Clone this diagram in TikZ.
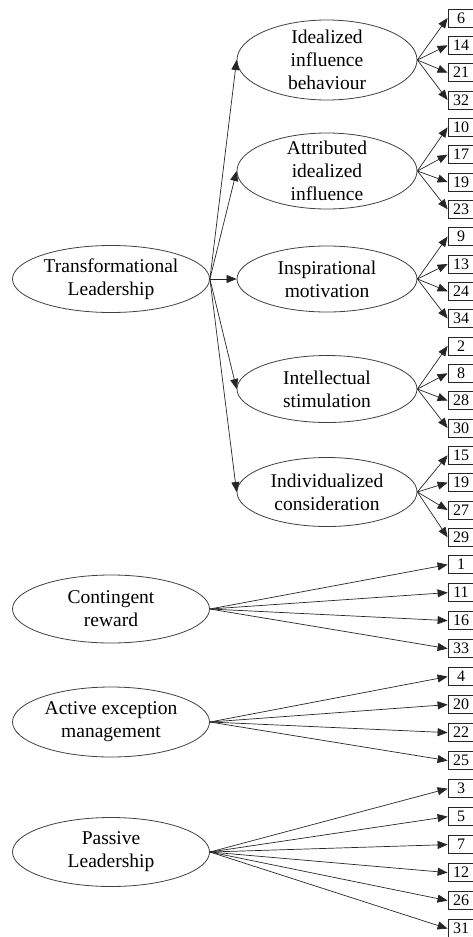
\documentclass[tikz,border=0pt]{standalone}
\usepackage{fontspec}
\setmainfont{Liberation Serif}
\usetikzlibrary{arrows.meta,shapes.geometric}
\begin{document}
\begin{tikzpicture}[x=1pt,y=-1pt,
  lat/.style={ellipse, draw=black!75, line width=0.8pt, inner sep=0pt},
  lbl/.style={inner sep=0pt, align=center, font=\fontsize{19.5}{23}\selectfont},
  item/.style={rectangle, draw=black!85, line width=0.8pt, minimum width=26pt, minimum height=18pt, inner sep=0pt, font=\fontsize{16}{16}\selectfont},
  arr/.style={-{Triangle[length=10pt,width=8pt]}, draw=black!85, line width=0.7pt}]
\useasboundingbox (0,0) rectangle (473,937);
% latent ellipses
\node[lat, minimum width=197pt, minimum height=67pt] (TL) at (111,279) {};
\node[lbl] at (TL) {Transformational\\Leadership};
\node[lat, minimum width=180pt, minimum height=80pt] (IIB) at (327,60) {};
\node[lbl] at (IIB) {Idealized\\influence\\behaviour};
\node[lat, minimum width=180pt, minimum height=76pt] (AII) at (327,171) {};
\node[lbl] at (AII) {Attributed\\idealized\\influence};
\node[lat, minimum width=180pt, minimum height=66pt] (IM) at (327,279) {};
\node[lbl] at (IM) {Inspirational\\motivation};
\node[lat, minimum width=180pt, minimum height=67pt] (IS) at (327,389) {};
\node[lbl] at (IS) {Intellectual\\stimulation};
\node[lat, minimum width=180pt, minimum height=69pt] (IC) at (327,492) {};
\node[lbl] at (IC) {Individualized\\consideration};
\node[lat, minimum width=197pt, minimum height=68pt] (CR) at (111,609) {};
\node[lbl] at (CR) {Contingent\\reward};
\node[lat, minimum width=197pt, minimum height=70pt] (AEM) at (111,722) {};
\node[lbl] at (AEM) {Active exception\\management};
\node[lat, minimum width=197pt, minimum height=69pt] (PL) at (111,852) {};
\node[lbl] at (PL) {Passive\\Leadership};
% item boxes
\foreach \lab/\yy [count=\i from 0] in {6/18,14/45.3,21/72.7,32/100,
  10/127.3,17/154.7,19/182,23/209.3,
  9/236.6,13/264,24/291.3,34/318.6,
  2/346,8/373.3,28/400.6,30/428,
  15/455.3,19/482.6,27/510,29/537.3,
  1/564.6,11/592.6,16/620.6,33/648.6,
  4/676.6,20/704.6,22/732.6,25/760.6,
  3/788.6,5/816.6,7/844.6,12/872.6,26/900.6,31/928.6}
  \node[item] (b\i) at (461,\yy) {\lab};
% arrows
\foreach \s in {IIB,AII,IM,IS,IC} \draw[arr] (TL.east) -- (\s.west);
\foreach \s/\a/\b in {IIB/0/3,AII/4/7,IM/8/11,IS/12/15,IC/16/19,CR/20/23,AEM/24/27,PL/28/33}
  \foreach \k in {\a,...,\b} \draw[arr] (\s.east) -- (b\k.west);
\end{tikzpicture}
\end{document}
